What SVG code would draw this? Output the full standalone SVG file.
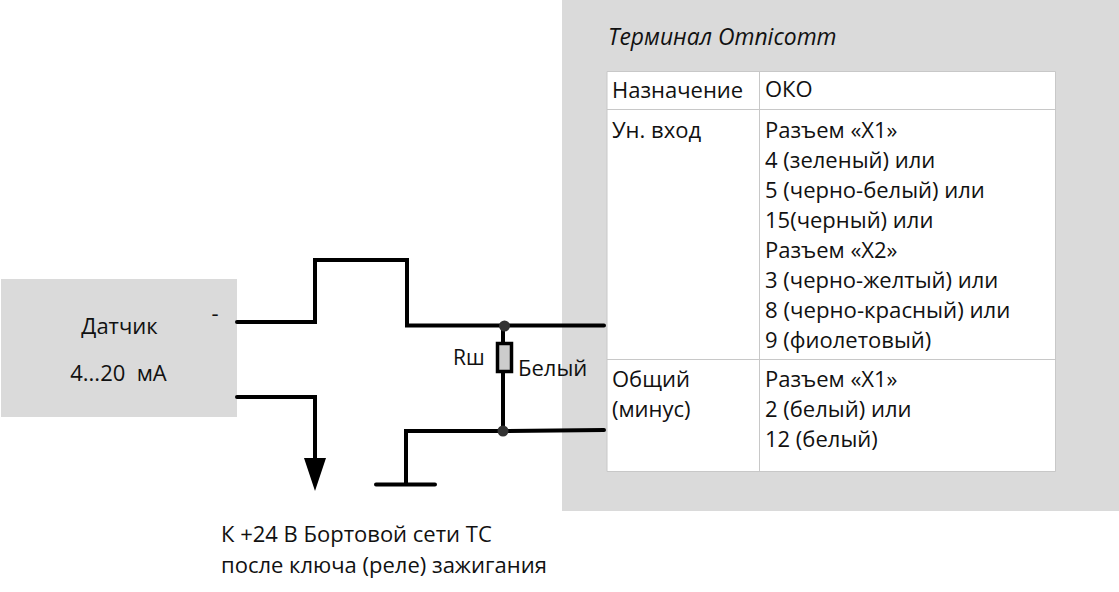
<svg xmlns="http://www.w3.org/2000/svg" width="1119" height="592" viewBox="0 0 1119 592">
<style>
text{font-family:"Open Sans","Noto Sans","Liberation Sans",sans-serif;font-size:22px;fill:#111}
.w{fill:none;stroke:#000;stroke-width:4;stroke-linecap:round;stroke-linejoin:miter}
.g{fill:#dadada}
.b{stroke:#c8c8c8;stroke-width:1;fill:none}
</style>
<rect width="1119" height="592" fill="#fff"/>
<g id="terminal">
<rect class="g" x="562" y="0" width="557" height="511"/>
<text x="608" y="45" font-style="italic" style="font-size:22.900px">Терминал Omnicomm</text>
<rect x="607" y="71" width="448" height="400" fill="#fff"/>
<path class="b" d="M607 71.500H1055.500V471.500H607ZM607 109.500H1055M607 359.500H1055M759.500 71V471"/>
<text x="612" y="98">Назначение</text>
<text x="765" y="97">ОКО</text>
<text x="612" y="138">Ун. вход</text>
<text x="765" y="138">Разъем «X1»</text>
<text x="765" y="168">4 (зеленый) или</text>
<text x="765" y="198">5 (черно-белый) или</text>
<text x="765" y="228">15(черный) или</text>
<text x="765" y="258">Разъем «X2»</text>
<text x="765" y="288">3 (черно-желтый) или</text>
<text x="765" y="318" style="font-size:22.200px">8 (черно-красный) или</text>
<text x="765" y="348">9 (фиолетовый)</text>
<text x="612" y="387">Общий</text>
<text x="612" y="417">(минус)</text>
<text x="765" y="387">Разъем «X1»</text>
<text x="765" y="417">2 (белый) или</text>
<text x="765" y="447">12 (белый)</text>
</g>
<g id="sensor">
<rect class="g" x="1" y="279" width="236" height="138"/>
<text x="119.500" y="334" text-anchor="middle">Датчик</text>
<text x="118.500" y="381" text-anchor="middle">4...20 &#160;мА</text>
<text x="215" y="321" text-anchor="middle">-</text>
</g>
<g id="connectors">
<path class="w" d="M237 322H315V260H407V325.500H604"/>
<path class="w" d="M237 397H315V462"/>
<path d="M304 458H326L315 491Z" fill="#000"/>
<path class="w" d="M376 484.500H435M406 484V431H503L604 430"/>
<path class="w" d="M503 326V343M503 372V431"/>
<circle cx="504.500" cy="326" r="5.500" fill="#333"/>
<circle cx="503" cy="431" r="5.500" fill="#333"/>
</g>
<g id="shunt">
<rect x="497.500" y="343.500" width="14" height="28" fill="#ccc" stroke="#000" stroke-width="3.500"/>
<text x="453" y="365" style="font-size:21px">Rш</text>
<text x="518" y="376">Белый</text>
</g>
<g id="note">
<text x="221" y="542">К +24 В Бортовой сети ТС</text>
<text x="221" y="573">после ключа (реле) зажигания</text>
</g>
</svg>
